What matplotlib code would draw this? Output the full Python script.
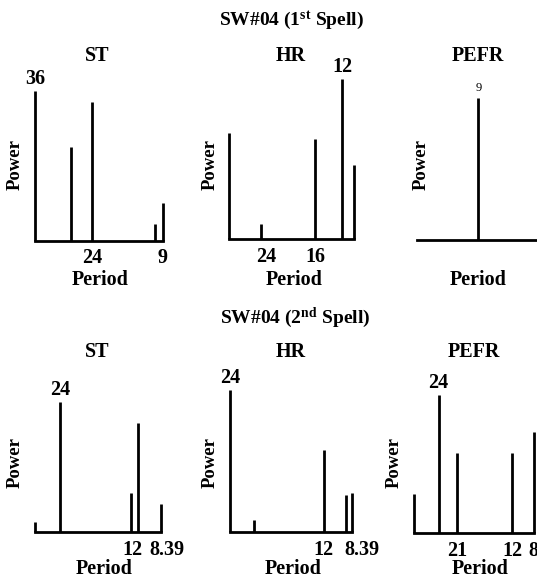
import matplotlib.pyplot as plt
from matplotlib.transforms import ScaledTranslation

plt.rcParams["font.family"] = ["Liberation Serif", "DejaVu Serif"]
plt.rcParams["font.weight"] = "bold"
plt.rcParams["mathtext.fontset"] = "custom"
plt.rcParams["mathtext.rm"] = "Liberation Serif:bold"
plt.rcParams["mathtext.bf"] = "Liberation Serif:bold"
plt.rcParams["mathtext.default"] = "rm"

# periods (x) and spectral power (arbitrary units)
ST1_PERIOD = [36, 28.4, 24, 10.6, 9]
ST1_POWER = [150, 94, 139, 17, 38]
HR1_PERIOD = [28.8, 24, 16, 12, 10.3]
HR1_POWER = [106, 15, 100, 160, 74]
PEFR1_PERIOD = [9]
PEFR1_POWER = [142]

ST2_PERIOD = [28, 24, 13, 12, 8.39]
ST2_POWER = [10, 130, 39, 109, 28]
HR2_PERIOD = [24, 20.9, 12, 9.2, 8.39]
HR2_POWER = [142, 12, 82, 37, 39]
PEFR2_PERIOD = [28, 24, 21, 12, 8.39]
PEFR2_POWER = [39, 138, 80, 80, 101]

ST1_TICKS = [24, 9]
HR1_TICKS = [24, 16]
PEFR1_TICKS = []
ST2_TICKS = [12, 8.39]
HR2_TICKS = [12, 8.39]
PEFR2_TICKS = [21, 12, 8.39]

ROW_TITLES = ["SW#04 (1$^{st}$ Spell)", "SW#04 (2$^{nd}$ Spell)"]
PANEL_TITLES = ["ST", "HR", "PEFR"]

W, H = 537, 579
fig = plt.figure(figsize=(W / 100, H / 100), dpi=100)


def fx(x):
    return x / W


def fy(y):
    return 1 - y / H


def panel(x0, x1, base, periods, powers, xlim, ticks, peak=None, small_peak=False,
          tick_shift=None, tick_pad=6):
    ax = fig.add_axes([fx(x0), fy(base), (x1 - x0) / W, 160 / H])
    ax.vlines(periods, 0, powers, color="black", lw=2, clip_on=False)
    ax.set_xlim(*xlim)
    ax.set_ylim(0, 160)
    for s in ["top", "right", "left"]:
        ax.spines[s].set_visible(False)
    ax.spines["bottom"].set_linewidth(2)
    ax.set_yticks([])
    ax.set_xticks(ticks, [f"{t:g}" for t in ticks])
    ax.tick_params(axis="x", length=0, pad=tick_pad, labelsize=14.5)
    if tick_shift:
        for lab, dx in zip(ax.get_xticklabels(), tick_shift):
            lab.set_transform(lab.get_transform() + ScaledTranslation(dx / 100, 0, fig.dpi_scale_trans))
    if peak is not None:
        i = periods.index(peak)
        if small_peak:
            ax.annotate(f"{peak:g}", (peak, powers[i]), xytext=(0, 5), textcoords="offset points",
                        ha="center", va="baseline", fontsize=9, fontweight="normal",
                        annotation_clip=False)
        else:
            ax.annotate(f"{peak:g}", (peak, powers[i]), xytext=(0, 5), textcoords="offset points",
                        ha="center", va="baseline", fontsize=14.5, annotation_clip=False)
    return ax


# first spell
panel(35, 162.7, 240.5, ST1_PERIOD, ST1_POWER, (36, 9), ST1_TICKS, peak=36, tick_pad=5.5)
panel(229, 353.7, 239, HR1_PERIOD, HR1_POWER, (28.8, 10.3), HR1_TICKS, peak=12,
      tick_shift=[5, 0], tick_pad=5.5)
panel(416.7, 540, 240, PEFR1_PERIOD, PEFR1_POWER, (13, 5), PEFR1_TICKS, peak=9, small_peak=True)

# second spell
panel(34.6, 161, 531.7, ST2_PERIOD, ST2_POWER, (28, 8.39), ST2_TICKS, peak=24,
      tick_shift=[-5, 6], tick_pad=6)
panel(230, 352, 531.7, HR2_PERIOD, HR2_POWER, (24, 8.39), HR2_TICKS, peak=24,
      tick_shift=[0, 10], tick_pad=6)
panel(414, 534.3, 532.7, PEFR2_PERIOD, PEFR2_POWER, (28, 8.39), PEFR2_TICKS, peak=24,
      tick_shift=[0, 0, 12], tick_pad=6)

# row titles, panel titles, axis labels
fig.text(fx(291.7), fy(25.5), ROW_TITLES[0], ha="center", va="baseline", fontsize=14)
fig.text(fx(295), fy(323), ROW_TITLES[1], ha="center", va="baseline", fontsize=14)

for row, (tbase, pwr_y, per_base) in enumerate([(61, 164, 285), (357, 463, 573.5)]):
    title_x = [97.6, 290.4, 478] if row == 0 else [97.6, 291, 474]
    power_x = [15, 210, 421] if row == 0 else [15.4, 210, 394]
    period_x = [100.5, 293.8, 478] if row == 0 else [104.5, 292.8, 480]
    for j, name in enumerate(PANEL_TITLES):
        fig.text(fx(title_x[j]), fy(tbase), name, ha="center", va="baseline", fontsize=14.5)
        fig.text(fx(power_x[j]), fy(pwr_y), "Power", ha="center", va="center",
                 rotation=90, fontsize=13.5)
        fig.text(fx(period_x[j]), fy(per_base), "Period", ha="center", va="baseline",
                 fontsize=14.5)

fig.savefig("out.png", dpi=100, facecolor="white")
